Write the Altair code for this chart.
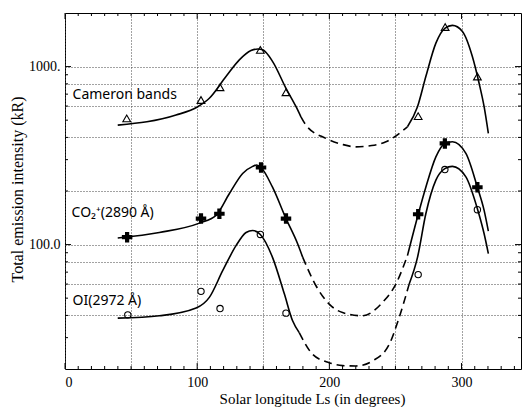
import altair as alt
import pandas as pd

# ---- measured points ----
cam_x = [46.7, 102.9, 117.3, 147.8, 167.2, 267.2, 287.6, 312.0]
cam_y = [512, 649, 765, 1242, 717, 527, 1668, 879]
co2_x = [47.0, 102.9, 116.8, 148.3, 167.2, 267.2, 287.4, 312.0]
co2_y = [110, 140, 149, 271, 140, 148, 370, 210]
oi_x = [47.5, 102.9, 117.3, 147.8, 167.2, 267.2, 287.4, 312.0]
oi_y = [40.3, 54.6, 43.7, 114, 41.2, 67.8, 264, 157]

# ---- fitted curves (solid parts and dashed gaps) ----
cam_s1_x = [39.9, 84, 100.4, 109.2, 121.8, 131.9, 140.7, 146, 149.5, 157.1, 167.2, 174.8, 178.5]
cam_s1_y = [469, 534, 595, 664, 879, 1091, 1231, 1255, 1242, 1067, 755, 595, 522]
cam_d_x = [178.5, 182.3, 197.4, 210, 220, 232, 242.8, 259.1]
cam_d_y = [522, 469, 395, 365, 354, 360, 378, 459]
cam_s2_x = [259.1, 266.7, 273, 280.6, 287.6, 293.1, 300.7, 308.2, 313.3, 317.1, 320.3]
cam_s2_y = [459, 595, 879, 1355, 1646, 1704, 1575, 1139, 806, 595, 421]

co2_s1_x = [39.9, 71.4, 101.7, 114.3, 124.3, 134.4, 142, 145, 148.3, 157, 167.2, 176, 179.8]
co2_s1_y = [109, 117, 132, 146, 193, 251, 275, 280, 271, 210, 140, 101, 85]
co2_d_x = [179.8, 189.9, 199.9, 210, 225, 240.2, 250.3, 259.1]
co2_d_y = [85, 58.7, 46.3, 41.5, 39.8, 47.3, 60, 86.7]
co2_s2_x = [259.1, 267.2, 273, 280.6, 287.4, 293.1, 303.3, 312, 317.1, 320.3]
co2_s2_y = [86.7, 147.6, 210, 311, 370, 378, 325, 210, 155.6, 119]

oi_s1_x = [39.9, 71.4, 99.2, 109.2, 119.3, 129.4, 137, 142, 147.8, 157, 166, 172.2, 177.2]
oi_s1_y = [38.6, 39.8, 44, 50.5, 71.3, 98.6, 117, 120, 114, 84.8, 52.7, 37.3, 32]
oi_d_x = [177.2, 187.3, 199.9, 210, 220, 232.7, 245.3, 252.8, 260.4]
oi_d_y = [32, 24.2, 21.7, 20.9, 20.8, 22.2, 27.5, 38.9, 60]
oi_s2_x = [260.4, 266.7, 273, 280.6, 287.4, 293.1, 303.3, 312, 317.1, 320.3]
oi_s2_y = [60, 84.8, 149, 230, 267, 275, 240, 159, 115, 89]

# ---- labels ----
lab_text = ["Cameron bands", "CO\u2082\u207a(2890 \u00c5)", "OI(2972 \u00c5)"]
lab_x = [5.7, 5.0, 5.7]
lab_y = [692, 151, 48.3]

# ---- axes ----
x_grid = [0, 50, 100, 150, 200, 250, 300]
x_major = [0, 100, 200, 300]
x_minor = [10, 20, 30, 40, 50, 60, 70, 80, 90, 110, 120, 130, 140, 150, 160, 170, 180, 190,
           210, 220, 230, 240, 250, 260, 270, 280, 290, 310, 320, 330, 340]
y_grid = [40, 60, 80, 100, 200, 400, 600, 800, 1000]
y_major = [100, 1000]
y_minor = [30, 40, 50, 60, 70, 80, 90, 200, 300, 400, 500, 600, 700, 800, 900]

W, H = 456, 356

def seg_df(xs_, ys_, seg):
    return pd.DataFrame({"x": xs_, "y": ys_, "seg": seg, "ord": range(len(xs_))})


solid_df = pd.concat([
    seg_df(cam_s1_x, cam_s1_y, "cam1"), seg_df(cam_s2_x, cam_s2_y, "cam2"),
    seg_df(co2_s1_x, co2_s1_y, "co21"), seg_df(co2_s2_x, co2_s2_y, "co22"),
    seg_df(oi_s1_x, oi_s1_y, "oi1"), seg_df(oi_s2_x, oi_s2_y, "oi2"),
])
dash_df = pd.concat([
    seg_df(cam_d_x, cam_d_y, "camd"), seg_df(co2_d_x, co2_d_y, "co2d"),
    seg_df(oi_d_x, oi_d_y, "oid"),
])
cam_df = pd.DataFrame({"x": cam_x, "y": cam_y})
co2_df = pd.DataFrame({"x": co2_x, "y": co2_y})
oi_df = pd.DataFrame({"x": oi_x, "y": oi_y})
lab_df = pd.DataFrame({"x": lab_x, "y": lab_y, "t": lab_text})

xs = alt.Scale(domain=[0, 345], nice=False, zero=False)
ys = alt.Scale(type="log", domain=[20, 2000], nice=False)

serif = "Liberation Serif"

ax_main = alt.Axis(
    values=x_grid, labelExpr="datum.value % 100 === 0 ? datum.label : ''",
    ticks=False, domain=False, grid=True, gridDash=[1, 2], gridColor="#444", gridWidth=1,
    labelFont=serif, labelFontSize=14, labelColor="black", labelPadding=6,
    title="Solar longitude Ls (in degrees)", titleFont=serif, titleFontSize=15,
    titleFontWeight="normal", titleColor="black", titleX=247, titleY=29,
    titleBaseline="middle", titleAlign="center",
)
ay_main = alt.Axis(
    values=y_grid,
    labelExpr="datum.value === 1000 ? '1000.' : (datum.value === 100 ? '100.0' : '')",
    ticks=False, domain=False, grid=True, gridDash=[1, 2], gridColor="#444", gridWidth=1,
    labelFont=serif, labelFontSize=14, labelColor="black", labelPadding=5,
    title="Total emission intensity (kR)", titleFont=serif, titleFontSize=16,
    titleFontWeight="normal", titleColor="black", titleX=-48, titleY=176,
    titleAngle=270, titleBaseline="middle", titleAlign="center",
)

solid = alt.Chart(solid_df).mark_line(interpolate="monotone", color="black", strokeWidth=1.6).encode(
    x=alt.X("x:Q", scale=xs, axis=ax_main),
    y=alt.Y("y:Q", scale=ys, axis=ay_main),
    detail="seg:N", order="ord:Q",
)
dashed = alt.Chart(dash_df).mark_line(interpolate="monotone", color="black", strokeWidth=1.6,
                                      strokeDash=[8, 5]).encode(
    x=alt.X("x:Q", scale=xs, axis=None),
    y=alt.Y("y:Q", scale=ys, axis=None),
    detail="seg:N", order="ord:Q",
)
tri = alt.Chart(cam_df).mark_point(shape="triangle-up", filled=False, color="black", size=60,
                                   strokeWidth=1.1, opacity=1).encode(
    x=alt.X("x:Q", scale=xs, axis=None),
    y=alt.Y("y:Q", scale=ys, axis=None),
)
crs = alt.Chart(co2_df).mark_point(shape="cross", filled=True, color="black", size=110,
                                   opacity=1).encode(
    x=alt.X("x:Q", scale=xs, axis=None),
    y=alt.Y("y:Q", scale=ys, axis=None),
)
cir = alt.Chart(oi_df).mark_point(shape="circle", filled=False, color="black", size=40,
                                  strokeWidth=1.1, opacity=1).encode(
    x=alt.X("x:Q", scale=xs, axis=None),
    y=alt.Y("y:Q", scale=ys, axis=None),
)
txt = alt.Chart(lab_df).mark_text(align="left", baseline="middle", font="Noto Sans", fontSize=14,
                                  color="black").encode(
    x=alt.X("x:Q", scale=xs, axis=None),
    y=alt.Y("y:Q", scale=ys, axis=None),
    text="t:N",
)


# inward frame ticks, positioned along the axes by the shared scales
def xtick_layer(vals, edge, inner):
    return alt.Chart(pd.DataFrame({"v": vals})).mark_rule(color="black", strokeWidth=1).encode(
        x=alt.X("v:Q", scale=xs, axis=None), y=alt.value(edge), y2=alt.value(inner))


def ytick_layer(vals, edge, inner):
    return alt.Chart(pd.DataFrame({"v": vals})).mark_rule(color="black", strokeWidth=1).encode(
        y=alt.Y("v:Q", scale=ys, axis=None), x=alt.value(edge), x2=alt.value(inner))


ticks = [
    xtick_layer(x_major, H, H - 6), xtick_layer(x_minor, H, H - 3),
    xtick_layer(x_major, 0, 6), xtick_layer(x_minor, 0, 3),
    ytick_layer(y_major, 0, 6), ytick_layer(y_minor, 0, 3),
    ytick_layer(y_major, W, W - 6), ytick_layer(y_minor, W, W - 3),
]

chart = alt.layer(solid, dashed, tri, crs, cir, txt, *ticks).resolve_axis(
    x="independent", y="independent"
).properties(
    width=W, height=H,
    autosize=alt.AutoSizeParams(type="none"),
    padding={"left": 57, "top": 5, "right": 1, "bottom": 38},
    background="white",
).configure_view(stroke="black", strokeWidth=1)

chart.save("out.html", embed_options={"renderer": "svg", "actions": False})
